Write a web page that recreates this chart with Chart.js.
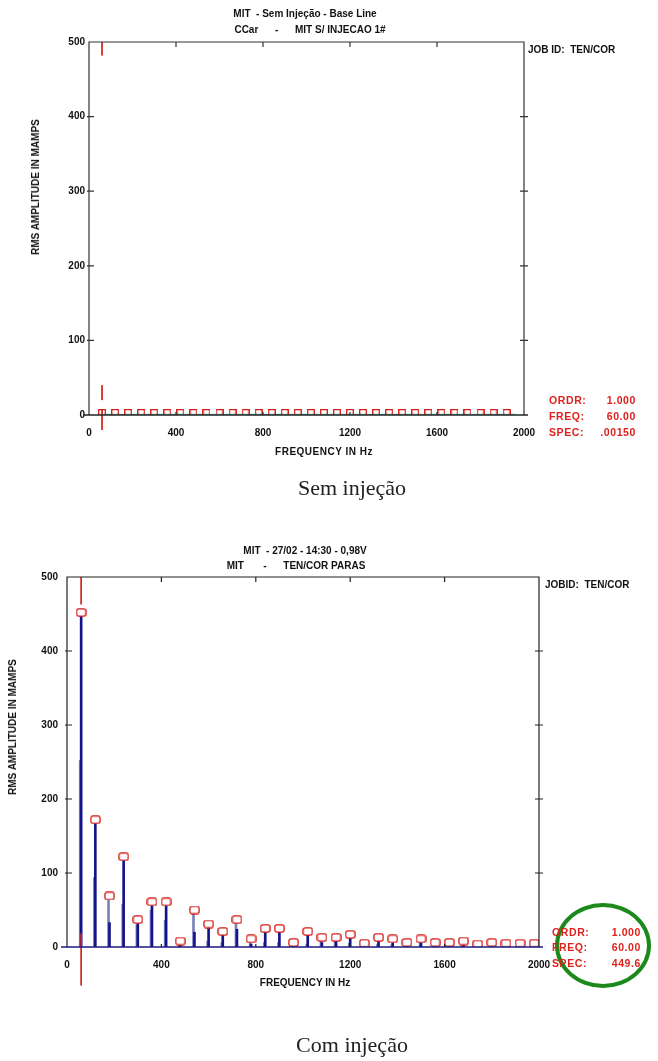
<!DOCTYPE html>
<html>
<head>
<meta charset="utf-8">
<script src="https://cdn.jsdelivr.net/npm/chart.js@4"></script>
<style>
  body { margin: 0; width: 658px; height: 1061px; background: #fff; position: relative; overflow: hidden;
         font-family: "Liberation Sans", Arial, sans-serif; }
  canvas { position: absolute; left: 0; }
  .t { position: absolute; font-weight: bold; font-size: 10px; white-space: pre; color: #111; line-height: 1; }
  .c { transform: translate(-50%, -50%); }
  .l { transform: translateY(-50%); }
  .r { transform: translate(-100%, -50%); }
  .red { color: #e0201c; font-size: 10.5px; letter-spacing: 0.6px; }
  .rot { transform: translate(-50%, -50%) rotate(-90deg); font-size: 10px; }
  .cap { position: absolute; font-family: "Liberation Serif", "DejaVu Serif", serif; font-size: 22px; color: #222;
         transform: translate(-50%, -50%); white-space: pre; }
  .ring { position: absolute; left: 555px; top: 903px; width: 96px; height: 85px; box-sizing: border-box;
          border: 4px solid #1b8a1b; border-radius: 50%; }
</style>
</head>
<body>
<canvas id="base" width="658" height="470" style="top:0"></canvas>
<canvas id="inj" width="658" height="480" style="top:520px"></canvas>

<!-- top chart texts -->
<div class="t c" style="left:305px;top:14px">MIT  - Sem Injeção - Base Line</div>
<div class="t c" style="left:310px;top:30px">CCar      -      MIT S/ INJECAO 1#</div>
<div class="t l" style="left:528px;top:50px">JOB ID:  TEN/COR</div>
<div class="t rot" style="left:36px;top:187px">RMS AMPLITUDE IN MAMPS</div>
<div class="t c" style="left:324px;top:452px;letter-spacing:0.5px">FREQUENCY IN Hz</div>
<div class="t l red" style="left:549px;top:400px">ORDR:</div>
<div class="t r red" style="left:636px;top:400px">1.000</div>
<div class="t l red" style="left:549px;top:416px">FREQ:</div>
<div class="t r red" style="left:636px;top:416px">60.00</div>
<div class="t l red" style="left:549px;top:432px">SPEC:</div>
<div class="t r red" style="left:636px;top:432px">.00150</div>
<div class="cap" style="left:352px;top:488px">Sem injeção</div>

<!-- bottom chart texts -->
<div class="t c" style="left:305px;top:551px">MIT  - 27/02 - 14:30 - 0,98V</div>
<div class="t c" style="left:296px;top:566px">MIT       -      TEN/COR PARAS</div>
<div class="t l" style="left:545px;top:585px">JOBID:  TEN/COR</div>
<div class="t rot" style="left:13px;top:727px">RMS AMPLITUDE IN MAMPS</div>
<div class="t c" style="left:305px;top:983px">FREQUENCY IN Hz</div>
<div class="ring"></div>
<div class="t l red" style="left:552px;top:932px">ORDR:</div>
<div class="t r red" style="left:641px;top:932px">1.000</div>
<div class="t l red" style="left:552px;top:947px">FREQ:</div>
<div class="t r red" style="left:641px;top:947px">60.00</div>
<div class="t l red" style="left:552px;top:963px">SPEC:</div>
<div class="t r red" style="left:641px;top:963px">449.6</div>
<div class="cap" style="left:352px;top:1045px">Com injeção</div>

<script>
// axis ticks (Hz / mA)
const freqTicks = [0, 400, 800, 1200, 1600, 2000];
const ampTicks = [0, 100, 200, 300, 400, 500];

// Sem injeção: harmonic markers sit on the baseline
const baseHarmonics = [60, 120, 180, 240, 300, 360, 420, 480, 540, 600, 660, 720, 780, 840, 900, 960,
  1020, 1080, 1140, 1200, 1260, 1320, 1380, 1440, 1500, 1560, 1620, 1680, 1740, 1800, 1860, 1920];
const baseAmp = [0, 0, 0, 0, 0, 0, 0, 0, 0, 0, 0, 0, 0, 0, 0, 0,
  0, 0, 0, 0, 0, 0, 0, 0, 0, 0, 0, 0, 0, 0, 0, 0];
const baseFloor = [[70, 0.6], [1960, 0.6]];

// Com injeção: peak marker, dark stem and light stem per harmonic
const injHarmonics = [60, 120, 180, 240, 300, 360, 420, 480, 540, 600, 660, 720, 780, 840, 900, 960,
  1020, 1080, 1140, 1200, 1260, 1320, 1380, 1440, 1500, 1560, 1620, 1680, 1740, 1800, 1860, 1920, 1980];
const injPeak = [452, 172, 69, 122, 37, 61, 61, 8, 50, 31, 21, 37, 11, 25, 25, 6,
  21, 13, 13, 17, 5, 13, 11, 6, 11, 6, 6, 8, 4, 6, 5, 5, 5];
const injStemDark = [450, 168, 33, 119, 34, 58, 58, 3, 20, 28, 18, 24, 4, 22, 22, 2,
  18, 6, 9, 15, 2, 10, 9, 2, 7, 2, 3, 6, 0, 2, 1, 1, 1];
const injStemLight = [252, 94, 66, 58, 30, 50, 36, 5, 47, 8, 6, 34, 8, 6, 6, 3,
  4, 10, 11, 5, 3, 4, 3, 3, 9, 3, 5, 3, 1, 3, 2, 2, 2];

// cursor at the fundamental
const cursorFreq = 60;
const baseCursor = [[500, 482], [40, 20], [7, -20]];
const injCursor = [[500, 463], [18, -52]];

const FONT = "'Liberation Sans', Arial, sans-serif";

function capMarker() {
  // open-bottom square, drawn in the upper half so it sits on the point
  const c = document.createElement("canvas");
  c.width = 8; c.height = 12;
  const g = c.getContext("2d");
  g.strokeStyle = "#d41c18"; g.lineWidth = 1.3;
  g.beginPath();
  g.moveTo(0.7, 6); g.lineTo(0.7, 0.7); g.lineTo(7.3, 0.7); g.lineTo(7.3, 6);
  g.stroke();
  return c;
}

function boxMarker() {
  const c = document.createElement("canvas");
  c.width = 11; c.height = 9;
  const g = c.getContext("2d");
  g.fillStyle = "#fff"; g.strokeStyle = "#d41c18"; g.lineWidth = 1.3;
  g.beginPath();
  g.roundRect(0.9, 0.9, 9.2, 7.2, 2);
  g.fill(); g.stroke();
  return c;
}

function cursorPoints(segs) {
  const pts = [];
  segs.forEach(([a, b]) => {
    pts.push({ x: cursorFreq, y: a }, { x: cursorFreq, y: b }, { x: cursorFreq, y: null });
  });
  return pts;
}

const framePlugin = {
  id: "frame",
  afterDatasetsDraw(chart, args, o) {
    const { ctx, chartArea: a, scales: { x, y } } = chart;
    ctx.save();
    ctx.lineWidth = 1.2;
    ctx.strokeStyle = o.color;
    ctx.beginPath();
    ctx.moveTo(a.left, a.bottom); ctx.lineTo(a.left, a.top);
    ctx.lineTo(a.right, a.top); ctx.lineTo(a.right, a.bottom);
    ampTicks.forEach((v) => {
      if (v === 0 || v === 500) return;
      const p = y.getPixelForValue(v);
      ctx.moveTo(a.left - 2, p); ctx.lineTo(a.left + 5, p);
      ctx.moveTo(a.right - 4, p); ctx.lineTo(a.right + 4, p);
    });
    freqTicks.forEach((v) => {
      if (v === 0 || v === 2000) return;
      const p = x.getPixelForValue(v);
      ctx.moveTo(p, a.top); ctx.lineTo(p, a.top + 5);
      ctx.moveTo(p, a.bottom); ctx.lineTo(p, a.bottom - 3);
    });
    ctx.stroke();
    ctx.strokeStyle = o.base;
    ctx.lineWidth = 1.4;
    ctx.beginPath();
    ctx.moveTo(a.left - 6, a.bottom); ctx.lineTo(a.right + 4, a.bottom);
    ctx.stroke();
    ctx.restore();
  },
};

function makeOptions(pad, yWidth, xHeight, yPad, frameColor, baseColor) {
  return {
    responsive: false,
    animation: false,
    devicePixelRatio: 1,
    layout: { padding: pad },
    plugins: {
      legend: { display: false },
      tooltip: { enabled: false },
      frame: { color: frameColor, base: baseColor },
    },
    scales: {
      x: {
        type: "linear", min: 0, max: 2000, offset: false,
        grid: { display: false, drawTicks: false, offset: false },
        border: { display: false },
        afterFit: (s) => { s.height = xHeight; },
        afterBuildTicks: (s) => { s.ticks = freqTicks.map((v) => ({ value: v })); },
        ticks: { padding: 12, color: "#111", callback: (v) => String(v),
                 font: { family: FONT, size: 10, weight: "bold" } },
      },
      y: {
        type: "linear", min: 0, max: 500,
        grid: { display: false, drawTicks: false },
        border: { display: false },
        afterFit: (s) => { s.width = yWidth; },
        afterBuildTicks: (s) => { s.ticks = ampTicks.map((v) => ({ value: v })); },
        ticks: { padding: yPad, color: "#111", callback: (v) => String(v),
                 font: { family: FONT, size: 10, weight: "bold" } },
      },
    },
  };
}

// Sem injeção
new Chart(document.getElementById("base"), {
  type: "scatter",
  data: {
    datasets: [
      {
        type: "line", data: baseFloor.map(([x, y]) => ({ x, y })),
        borderColor: "#5fd6c4", borderWidth: 1.5, pointRadius: 0, order: 3,
      },
      {
        data: baseHarmonics.map((f, i) => ({ x: f, y: baseAmp[i] })),
        pointStyle: capMarker(), pointRadius: 4, order: 1,
      },
      {
        type: "line", data: cursorPoints(baseCursor), spanGaps: false, clip: false,
        borderColor: "#d8241e", borderWidth: 1, pointRadius: 0, order: 0,
      },
    ],
  },
  options: makeOptions({ left: 0, right: 134, top: 42, bottom: 25 }, 89, 30, 4, "#333", "#222"),
  plugins: [framePlugin],
});

// Com injeção
const markerImg = boxMarker();
new Chart(document.getElementById("inj"), {
  type: "scatter",
  data: {
    datasets: [
      {
        type: "bar", data: injHarmonics.map((f, i) => ({ x: f - 4, y: injStemLight[i] })),
        backgroundColor: "#7a82b8", barThickness: 2, grouped: false, order: 4,
      },
      {
        type: "bar", data: injHarmonics.map((f, i) => ({ x: f, y: injStemDark[i] })),
        backgroundColor: "#14148a", barThickness: 2, grouped: false, order: 3,
      },
      {
        data: injHarmonics.map((f, i) => ({ x: f, y: injPeak[i] })),
        pointStyle: markerImg, pointRadius: 4, order: 1,
      },
      {
        type: "line", data: cursorPoints(injCursor), spanGaps: false, clip: false,
        borderColor: "#d8241e", borderWidth: 1, pointRadius: 0, order: 0,
      },
    ],
  },
  options: makeOptions({ left: 0, right: 119, top: 57, bottom: 23 }, 67, 30, 9, "#222", "#1a1a80"),
  plugins: [framePlugin],
});
</script>
</body>
</html>
